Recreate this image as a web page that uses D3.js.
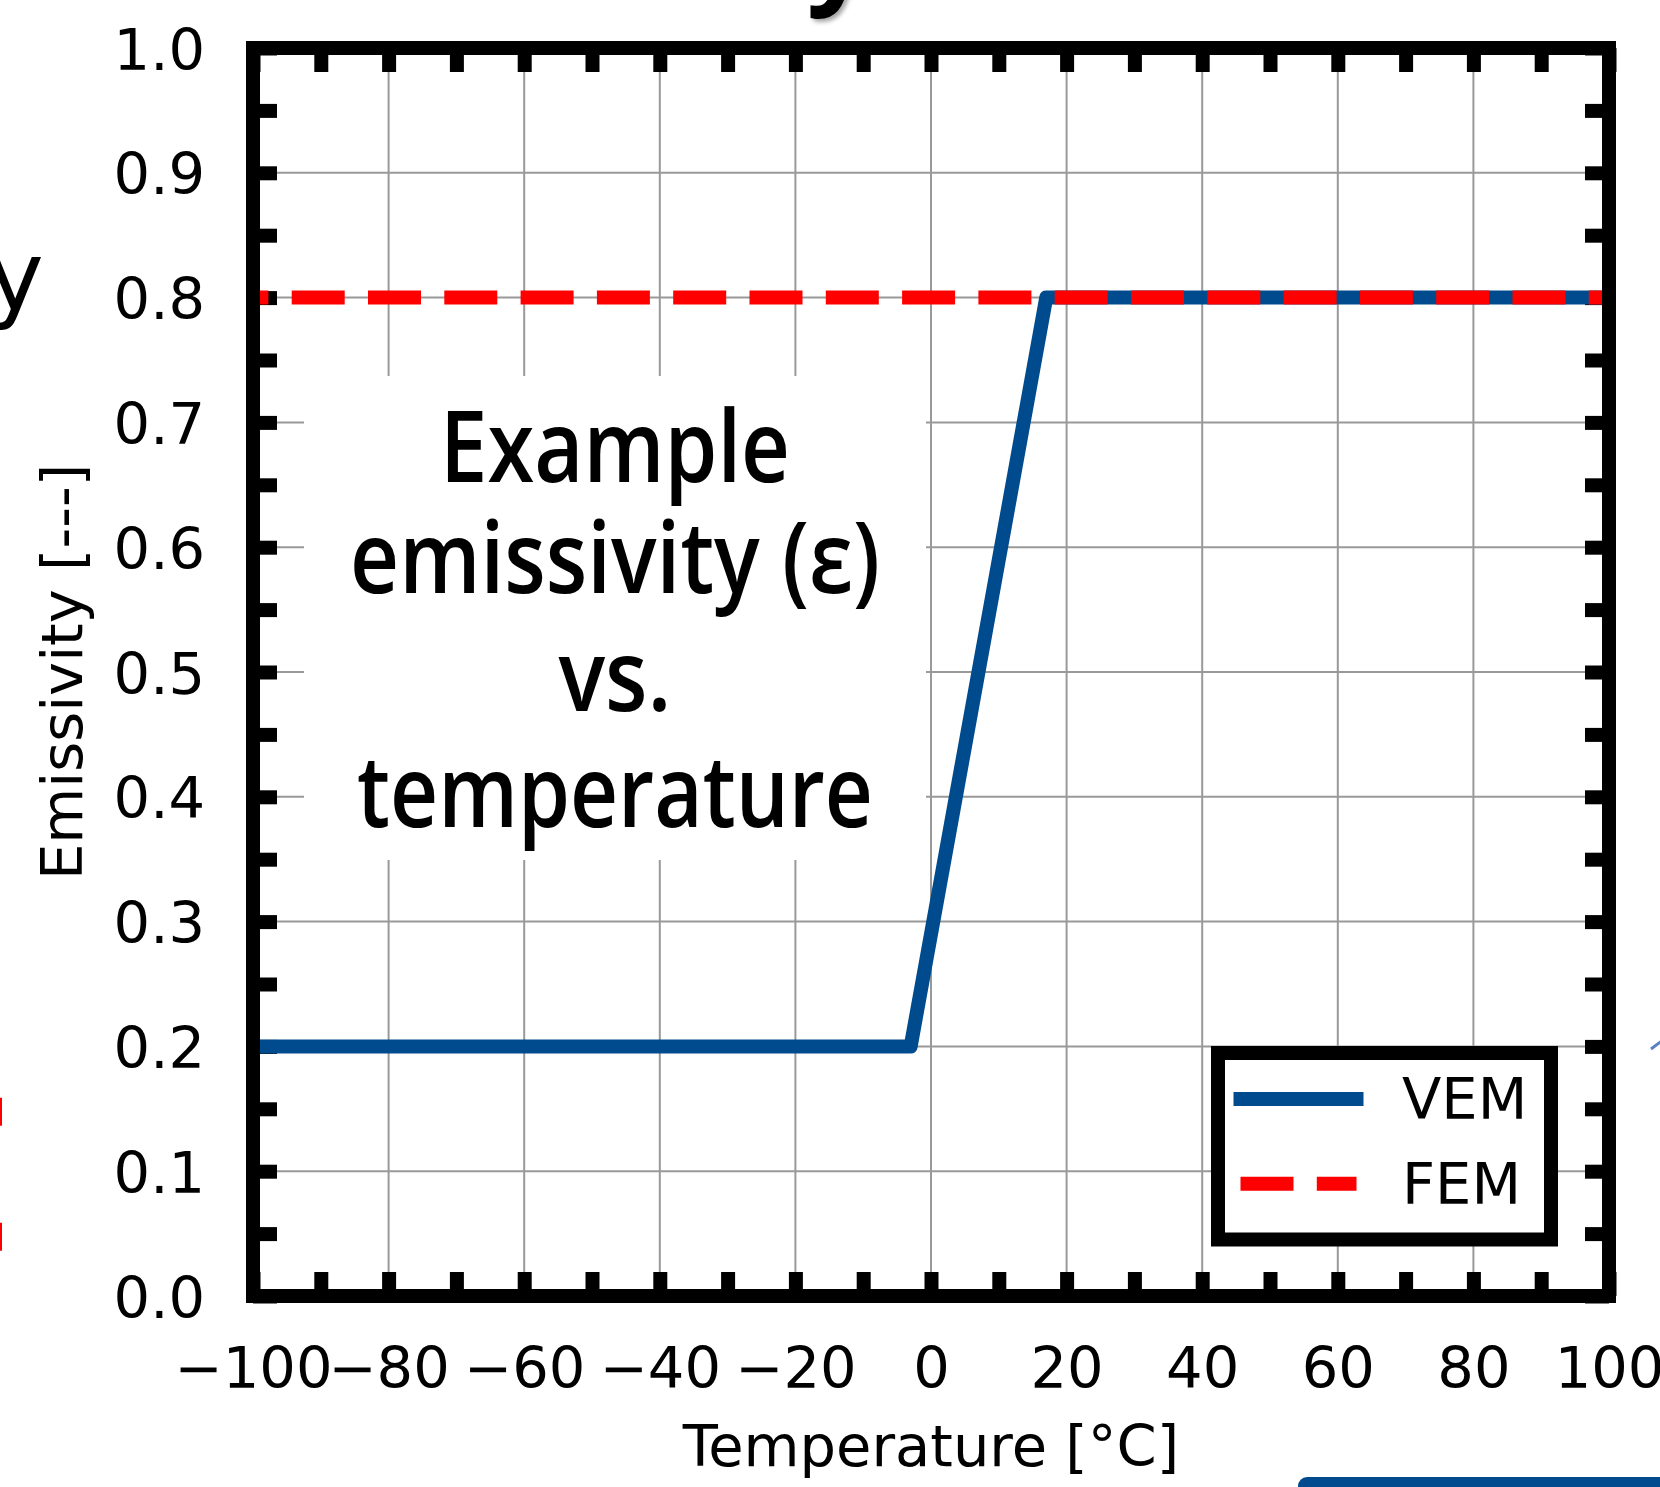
<!DOCTYPE html>
<html><head><meta charset="utf-8">
<script src="https://cdn.jsdelivr.net/npm/d3@7"></script>
<style>html,body{margin:0;padding:0;background:#fff;overflow:hidden} svg{display:block}</style>
</head><body>
<svg id="chart" width="1660" height="1487"></svg>
<script>
// ---------- data ----------
const vemTemps  = [-100, -3, 17, 100];
const vemValues = [0.2, 0.2, 0.8, 0.8];
const femTemps  = [-100, 100];
const femValues = [0.8, 0.8];
const seriesNames = ["VEM", "FEM"];
const xMajorTicks = [-100, -80, -60, -40, -20, 0, 20, 40, 60, 80, 100];
const xTickLabels = ["\u2212100", "\u221280", "\u221260", "\u221240", "\u221220", "0", "20", "40", "60", "80", "100"];
const xMinorTicks = [-90, -70, -50, -30, -10, 10, 30, 50, 70, 90];
const yMajorTicks = [0, 0.1, 0.2, 0.3, 0.4, 0.5, 0.6, 0.7, 0.8, 0.9, 1.0];
const yTickLabels = ["0.0", "0.1", "0.2", "0.3", "0.4", "0.5", "0.6", "0.7", "0.8", "0.9", "1.0"];
const yMinorTicks = [0.05, 0.15, 0.25, 0.35, 0.45, 0.55, 0.65, 0.75, 0.85, 0.95];
const xLabel = "Temperature [\u00B0C]";
const yLabel = "Emissivity [---]";
const annotationLines = ["Example", "emissivity (\u03B5)", "vs.", "temperature"];

// ---------- layout ----------
const L = 253, R = 1609, T = 48, B = 1296;
const FONT = "DejaVu Sans";
const FS = 57.5;
const BLUE = "#004b8d", RED = "#ff0000", GRID = "#999999";

const svg = d3.select("#chart");
svg.append("rect").attr("width", 1660).attr("height", 1487).attr("fill", "#fff");

const x = d3.scaleLinear().domain([-100, 100]).range([L, R]);
const y = d3.scaleLinear().domain([0, 1]).range([B, T]);

// ---------- surrounding slide fragments ----------
svg.append("text").attr("x", 44).attr("y", 310).attr("text-anchor", "end")
  .attr("font-family", FONT).attr("font-size", 97).text("y");
svg.append("text").attr("x", 838).attr("y", -7).attr("text-anchor", "middle")
  .attr("font-family", "Open Sans").attr("font-weight", 700).attr("font-size", 110)
  .style("filter", "drop-shadow(3px 3px 2px rgba(0,0,0,0.35))").text("y");
svg.append("line").attr("x1", 0.5).attr("x2", 0.5).attr("y1", 1097.7).attr("y2", 1252)
  .attr("stroke", RED).attr("stroke-width", 3).attr("stroke-dasharray", "28 97");
svg.append("rect").attr("x", 1298).attr("y", 1477).attr("width", 420).attr("height", 40)
  .attr("rx", 9).attr("fill", BLUE);
svg.append("line").attr("x1", 1651).attr("y1", 1049).attr("x2", 1663).attr("y2", 1040)
  .attr("stroke", "#5a7fc2").attr("stroke-width", 3);

// ---------- clip ----------
svg.append("clipPath").attr("id", "plotclip").append("rect")
  .attr("x", L).attr("y", T).attr("width", R - L).attr("height", B - T);

// ---------- grid ----------
const grid = svg.append("g").attr("clip-path", "url(#plotclip)");
grid.selectAll("line.vg").data(xMajorTicks).join("line")
  .attr("x1", d => x(d)).attr("x2", d => x(d)).attr("y1", T).attr("y2", B)
  .attr("stroke", GRID).attr("stroke-width", 2);
grid.selectAll("line.hg").data(yMajorTicks).join("line")
  .attr("x1", L).attr("x2", R).attr("y1", d => y(d)).attr("y2", d => y(d))
  .attr("stroke", GRID).attr("stroke-width", 2);

// ---------- annotation box ----------
const ann = svg.append("g");
ann.append("rect").attr("x", 304).attr("y", 376).attr("width", 622).attr("height", 484).attr("fill", "#fff");
const annBaselines = [481.7, 593.3, 710.5, 826.7];
const annWidths = [350, 530, 113, 516];
ann.selectAll("text").data(annotationLines).join("text")
  .attr("x", 615).attr("y", (d, i) => annBaselines[i])
  .attr("text-anchor", "middle")
  .attr("font-family", "Open Sans").attr("font-weight", 600).attr("font-size", 100)
  .attr("textLength", (d, i) => annWidths[i]).attr("lengthAdjust", "spacingAndGlyphs")
  .attr("fill", "#000").text(d => d);

// ---------- ticks (inward, all four sides) ----------
function styleAxis(g) {
  g.attr("font-family", null).attr("font-size", null);
  g.select(".domain").remove();
  g.selectAll(".tick line").attr("stroke", "#000").attr("stroke-width", 14);
  g.selectAll(".tick text").attr("font-family", FONT).attr("font-size", FS).attr("fill", "#000");
}
const TK = 24;
svg.append("g").attr("transform", `translate(0,${B})`)
  .call(d3.axisBottom(x).tickValues(xMajorTicks).tickSizeInner(-TK).tickSizeOuter(0)
    .tickPadding(51).tickFormat((d, i) => xTickLabels[i])).call(styleAxis);
svg.append("g").attr("transform", `translate(0,${B})`)
  .call(d3.axisBottom(x).tickValues(xMinorTicks).tickSizeInner(-TK).tickSizeOuter(0).tickFormat("")).call(styleAxis);
svg.append("g").attr("transform", `translate(0,${T})`)
  .call(d3.axisTop(x).tickValues(xMajorTicks.concat(xMinorTicks)).tickSizeInner(-TK).tickSizeOuter(0).tickFormat("")).call(styleAxis);
const yAx = svg.append("g").attr("transform", `translate(${L},0)`)
  .call(d3.axisLeft(y).tickValues(yMajorTicks).tickSizeInner(-TK).tickSizeOuter(0)
    .tickPadding(48).tickFormat((d, i) => yTickLabels[i])).call(styleAxis);
yAx.selectAll(".tick text").attr("dy", "0.365em");
svg.append("g").attr("transform", `translate(${L},0)`)
  .call(d3.axisLeft(y).tickValues(yMinorTicks).tickSizeInner(-TK).tickSizeOuter(0).tickFormat("")).call(styleAxis);
svg.append("g").attr("transform", `translate(${R},0)`)
  .call(d3.axisRight(y).tickValues(yMajorTicks.concat(yMinorTicks)).tickSizeInner(-TK).tickSizeOuter(0).tickFormat("")).call(styleAxis);

// ---------- data lines ----------
const line = d3.line().x(d => x(d[0])).y(d => y(d[1]));
const lines = svg.append("g").attr("clip-path", "url(#plotclip)");
lines.append("path").datum(d3.zip(vemTemps, vemValues)).attr("d", line)
  .attr("fill", "none").attr("stroke", BLUE).attr("stroke-width", 14)
  .attr("stroke-linejoin", "round").attr("stroke-linecap", "square");
lines.append("path").datum(d3.zip(femTemps, femValues)).attr("d", line)
  .attr("fill", "none").attr("stroke", RED).attr("stroke-width", 14)
  .attr("stroke-dasharray", "53 23.3").attr("stroke-dashoffset", 37.6).attr("stroke-linecap", "butt");

// ---------- frame ----------
svg.append("rect").attr("x", L).attr("y", T).attr("width", R - L).attr("height", B - T)
  .attr("fill", "none").attr("stroke", "#000").attr("stroke-width", 14);

// ---------- legend ----------
const lg = svg.append("g");
lg.append("rect").attr("x", 1218).attr("y", 1053).attr("width", 333).attr("height", 186.5)
  .attr("fill", "#fff").attr("stroke", "#000").attr("stroke-width", 14);
const legendStyles = [
  { color: BLUE, dash: null, cap: "square" },
  { color: RED, dash: "53 23.3", cap: "butt" }
];
const rowY = i => 1099 + i * 84.7;
seriesNames.forEach((name, i) => {
  lg.append("line").attr("x1", 1240.5).attr("x2", 1356.5).attr("y1", rowY(i)).attr("y2", rowY(i))
    .attr("stroke", legendStyles[i].color).attr("stroke-width", 14)
    .attr("stroke-linecap", legendStyles[i].cap)
    .attr("stroke-dasharray", legendStyles[i].dash);
  lg.append("text").attr("x", 1402).attr("y", rowY(i) + 20.3)
    .attr("font-family", FONT).attr("font-size", FS).attr("fill", "#000").text(name);
});

// ---------- axis labels ----------
svg.append("text").attr("x", (L + R) / 2).attr("y", 1466).attr("text-anchor", "middle")
  .attr("font-family", FONT).attr("font-size", FS).attr("fill", "#000").text(xLabel);
svg.append("text").attr("transform", `translate(82,${(T + B) / 2}) rotate(-90)`).attr("text-anchor", "middle")
  .attr("font-family", FONT).attr("font-size", FS).attr("fill", "#000").text(yLabel);
</script>
</body></html>
